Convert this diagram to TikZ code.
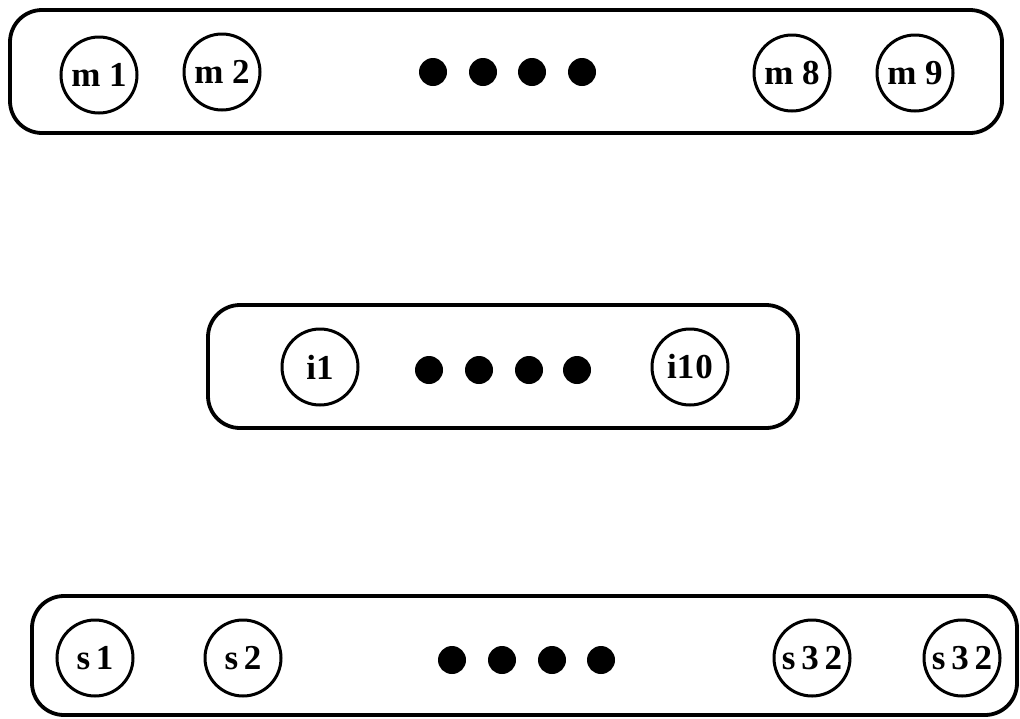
\documentclass[tikz,border=0pt]{standalone}
\usepackage{fontspec}
\setmainfont{Liberation Serif}
\begin{document}
\begin{tikzpicture}[x=1pt,y=-1pt,
  groupbox/.style={draw,line width=3.8pt,rounded corners=32pt,inner sep=0pt},
  unit/.style={draw,circle,line width=3pt,fill=white,minimum size=76pt,inner sep=0pt,font=\fontsize{35}{35}\selectfont\bfseries},
  ellip/.style={circle,fill=black,minimum size=28pt,inner sep=0pt}]
\useasboundingbox (0,0) rectangle (1020,718);
% groups
\node[groupbox,minimum width=992pt,minimum height=123pt] (top) at (506,71.5) {};
\node[groupbox,minimum width=590pt,minimum height=123pt] (mid) at (503,366.5) {};
\node[groupbox,minimum width=985pt,minimum height=119pt] (bot) at (524.5,655.5) {};
% top row
\node[unit] (m1) at (99,75) {m 1};
\node[unit] (m2) at (222,72) {m 2};
\node[ellip] (td1) at (433,72) {};
\node[ellip] (td2) at (483,72) {};
\node[ellip] (td3) at (532,72) {};
\node[ellip] (td4) at (582,72) {};
\node[unit] (m8) at (792,73) {m 8};
\node[unit] (m9) at (915,73) {m 9};
% middle row
\node[unit] (i1) at (320,367) {i1};
\node[ellip] (md1) at (429,370) {};
\node[ellip] (md2) at (479,370) {};
\node[ellip] (md3) at (529,370) {};
\node[ellip] (md4) at (577,370) {};
\node[unit] (i10) at (690,367) {i1\kern1pt0};
% bottom row
\node[unit] (s1) at (95,658) {s\,1};
\node[unit] (s2) at (243,658) {s\,2};
\node[ellip] (bd1) at (452,660) {};
\node[ellip] (bd2) at (502,660) {};
\node[ellip] (bd3) at (552,660) {};
\node[ellip] (bd4) at (601,660) {};
\node[unit] (s32a) at (812,658) {s\,3\,2};
\node[unit] (s32b) at (962,658) {s\,3\,2};
\end{tikzpicture}
\end{document}
